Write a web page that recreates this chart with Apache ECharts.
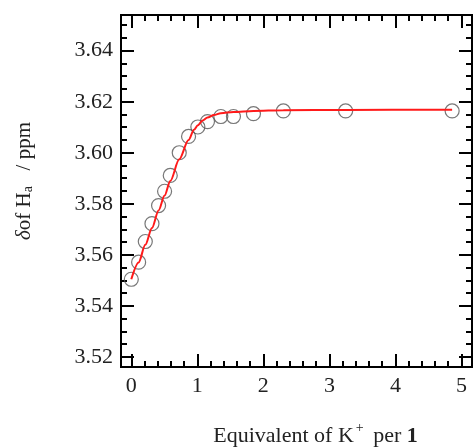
<!DOCTYPE html>
<html><head><meta charset="utf-8">
<script src="https://cdn.jsdelivr.net/npm/echarts@6/dist/echarts.min.js"></script>
<style>html,body{margin:0;padding:0;background:#fff}#c{width:474px;height:447px}</style>
</head><body><div id="c"></div>
<script>
const obsX = [0, 0.111, 0.212, 0.313, 0.413, 0.504, 0.59, 0.726, 0.867, 1.008, 1.154, 1.356, 1.547, 1.85, 2.303, 3.246, 4.859];
const obsY = [3.5504, 3.5571, 3.5652, 3.5722, 3.5793, 3.5849, 3.5911, 3.6000, 3.6064, 3.6101, 3.6122, 3.6142, 3.6142, 3.6153, 3.6164, 3.6164, 3.6164];
const fitX = [0, 0.111, 0.212, 0.313, 0.413, 0.504, 0.59, 0.726, 0.867, 0.95, 1.008, 1.08, 1.154, 1.25, 1.356, 1.547, 1.85, 2.303, 3.246, 4.859];
const fitY = [3.5504, 3.5570, 3.5639, 3.5705, 3.5774, 3.5832, 3.5889, 3.5974, 3.6050, 3.6090, 3.6108, 3.6126, 3.6138, 3.6148, 3.6155, 3.6160, 3.6164, 3.6167, 3.6168, 3.6169];
const xTickLabels = [0, 1, 2, 3, 4, 5];
const xMinorTicks = [0.2, 0.4, 0.6, 0.8, 1.2, 1.4, 1.6, 1.8, 2.2, 2.4, 2.6, 2.8, 3.2, 3.4, 3.6, 3.8, 4.2, 4.4, 4.6, 4.8];
const yTickLabels = [3.52, 3.54, 3.56, 3.58, 3.60, 3.62, 3.64];
const yMinorTicks = [3.525, 3.53, 3.535, 3.545, 3.55, 3.555, 3.565, 3.57, 3.575, 3.585, 3.59, 3.595, 3.605, 3.61, 3.615, 3.625, 3.63, 3.635, 3.645, 3.65];

const FONT = 'Liberation Serif';
const X_MIN = -0.156, X_MAX = 5.16, Y_MIN = 3.516, Y_MAX = 3.654;
const lineStyle = {color: '#000', width: 2};

function xAx(pos, ticks, len, labels, extra) {
  return Object.assign({
    type: 'value', position: pos, min: X_MIN, max: X_MAX,
    axisLine: {show: true, onZero: false, lineStyle: lineStyle},
    axisTick: {show: true, inside: true, length: len, customValues: ticks, lineStyle: {color: '#000', width: 2}},
    axisLabel: labels ? {show: true, customValues: labels, fontFamily: FONT, fontSize: 22, color: '#222', margin: 8, formatter: v => String(Math.round(v))} : {show: false},
    splitLine: {show: false}
  }, extra || {});
}
function yAx(pos, ticks, len, labels, extra) {
  return Object.assign({
    type: 'value', position: pos, min: Y_MIN, max: Y_MAX,
    axisLine: {show: true, onZero: false, lineStyle: lineStyle},
    axisTick: {show: true, inside: true, length: len, customValues: ticks, lineStyle: {color: '#000', width: 2}},
    axisLabel: labels ? {show: true, customValues: labels, fontFamily: FONT, fontSize: 22, color: '#222', margin: 8, formatter: v => v.toFixed(2)} : {show: false},
    splitLine: {show: false}
  }, extra || {});
}

const chart = echarts.init(document.getElementById('c'), null, {renderer: 'canvas'});
chart.setOption({
  animation: false,
  backgroundColor: '#fff',
  grid: {left: 121, right: 2, top: 15, bottom: 80, containLabel: false, outerBoundsMode: 'none'},
  xAxis: [
    xAx('bottom', xTickLabels, 13, xTickLabels, {
      name: 'Equivalent of K{sup|+} per {b|1}', nameLocation: 'middle', nameGap: 54,
      nameTextStyle: {fontFamily: FONT, fontSize: 22, color: '#222', padding: [0, 0, 0, 38],
        rich: {sup: {fontFamily: FONT, fontSize: 14, color: '#222', verticalAlign: 'top', padding: [0, 4, 16, 2]},
               b: {fontFamily: FONT, fontSize: 22, fontWeight: 'bold', color: '#222'}}}
    }),
    xAx('top', xTickLabels, 13, null),
    xAx('bottom', xMinorTicks, 6, null),
    xAx('top', xMinorTicks, 6, null)
  ],
  yAxis: [
    yAx('left', yTickLabels, 13, yTickLabels, {
      name: '{i|δ}of H{sub|a}   / ppm', nameLocation: 'middle', nameGap: 86, nameRotate: 90,
      nameTextStyle: {fontFamily: FONT, fontSize: 21, color: '#222', padding: [0, 0, 0, 20],
        rich: {i: {fontFamily: FONT, fontSize: 21, fontStyle: 'italic', color: '#222'},
               sub: {fontFamily: FONT, fontSize: 14, color: '#222', verticalAlign: 'bottom', padding: [8, 0, 0, 0]}}}
    }),
    yAx('right', yTickLabels, 13, null),
    yAx('left', yMinorTicks, 6, null),
    yAx('right', yMinorTicks, 6, null)
  ],
  series: [
    {
      type: 'scatter', xAxisIndex: 0, yAxisIndex: 0,
      data: obsX.map((x, i) => [x, obsY[i]]),
      symbol: 'circle', symbolSize: 14,
      itemStyle: {color: 'rgba(0,0,0,0)', borderColor: '#555', borderWidth: 1.2},
      z: 2
    },
    {
      type: 'line', xAxisIndex: 0, yAxisIndex: 0,
      data: fitX.map((x, i) => [x, fitY[i]]),
      showSymbol: false, smooth: 0.3, smoothMonotone: 'x',
      lineStyle: {color: '#ff1a1a', width: 2},
      z: 3
    }
  ]
});
</script></body></html>
